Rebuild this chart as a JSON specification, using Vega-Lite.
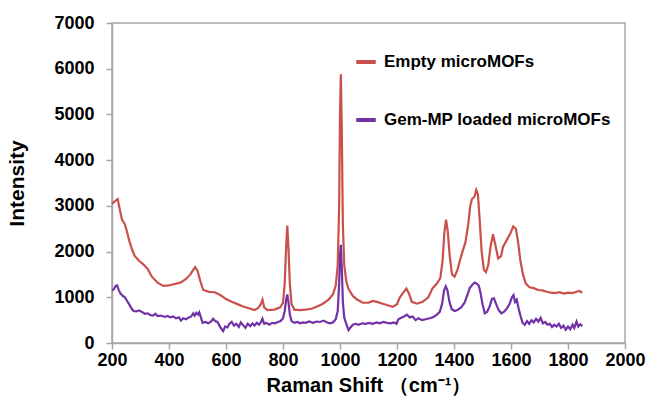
{
 "$schema": "https://vega.github.io/schema/vega-lite/v6.json",
 "width": 513,
 "height": 320,
 "autosize": {"type": "none"},
 "padding": {"left": 112, "top": 23, "right": 23, "bottom": 56},
 "background": "white",
 "config": {
  "view": {"stroke": "#a6a6a6", "strokeWidth": 1.5},
  "font": "Liberation Sans"
 },
 "datasets": {
  "empty": [
   {"x":200,"y":3050},{"x":210,"y":3100},{"x":220,"y":3150},{"x":228,"y":2900},{"x":235,"y":2700},{"x":245,"y":2600},{"x":252,"y":2450},{"x":260,"y":2250},{"x":270,"y":2050},{"x":280,"y":1900},{"x":295,"y":1800},{"x":310,"y":1720},{"x":325,"y":1620},{"x":340,"y":1450},{"x":360,"y":1320},{"x":380,"y":1250},{"x":400,"y":1260},{"x":420,"y":1290},{"x":440,"y":1320},{"x":460,"y":1400},{"x":475,"y":1500},{"x":485,"y":1600},{"x":492,"y":1660},{"x":500,"y":1580},{"x":510,"y":1350},{"x":520,"y":1160},{"x":540,"y":1120},{"x":560,"y":1110},{"x":580,"y":1050},{"x":600,"y":960},{"x":620,"y":900},{"x":640,"y":850},{"x":660,"y":800},{"x":680,"y":760},{"x":700,"y":720},{"x":712,"y":760},{"x":722,"y":850},{"x":728,"y":950},{"x":734,"y":780},{"x":745,"y":720},{"x":770,"y":730},{"x":790,"y":780},{"x":800,"y":880},{"x":806,"y":1300},{"x":811,"y":2100},{"x":815,"y":2570},{"x":819,"y":2100},{"x":824,"y":1300},{"x":830,"y":850},{"x":840,"y":730},{"x":860,"y":720},{"x":880,"y":730},{"x":900,"y":750},{"x":920,"y":800},{"x":940,"y":860},{"x":960,"y":950},{"x":975,"y":1060},{"x":985,"y":1250},{"x":992,"y":1700},{"x":997,"y":3000},{"x":1000,"y":5000},{"x":1003,"y":5880},{"x":1006,"y":4800},{"x":1010,"y":2600},{"x":1015,"y":1700},{"x":1022,"y":1350},{"x":1030,"y":1180},{"x":1045,"y":1030},{"x":1060,"y":950},{"x":1080,"y":880},{"x":1100,"y":880},{"x":1115,"y":920},{"x":1130,"y":900},{"x":1150,"y":860},{"x":1170,"y":820},{"x":1185,"y":790},{"x":1200,"y":850},{"x":1210,"y":1000},{"x":1222,"y":1100},{"x":1233,"y":1190},{"x":1242,"y":1080},{"x":1252,"y":900},{"x":1270,"y":860},{"x":1290,"y":900},{"x":1310,"y":1000},{"x":1325,"y":1200},{"x":1340,"y":1300},{"x":1352,"y":1420},{"x":1360,"y":1800},{"x":1366,"y":2400},{"x":1372,"y":2700},{"x":1378,"y":2450},{"x":1385,"y":1900},{"x":1393,"y":1500},{"x":1402,"y":1450},{"x":1412,"y":1600},{"x":1425,"y":1900},{"x":1440,"y":2200},{"x":1450,"y":2600},{"x":1457,"y":3000},{"x":1463,"y":3150},{"x":1472,"y":3200},{"x":1478,"y":3350},{"x":1484,"y":3250},{"x":1490,"y":2700},{"x":1497,"y":2000},{"x":1505,"y":1600},{"x":1512,"y":1550},{"x":1520,"y":1700},{"x":1528,"y":2100},{"x":1537,"y":2380},{"x":1545,"y":2150},{"x":1555,"y":1850},{"x":1565,"y":1900},{"x":1572,"y":2100},{"x":1585,"y":2250},{"x":1598,"y":2400},{"x":1608,"y":2550},{"x":1617,"y":2500},{"x":1625,"y":2200},{"x":1633,"y":1800},{"x":1642,"y":1500},{"x":1652,"y":1300},{"x":1665,"y":1220},{"x":1680,"y":1200},{"x":1695,"y":1160},{"x":1710,"y":1150},{"x":1725,"y":1120},{"x":1740,"y":1100},{"x":1755,"y":1090},{"x":1770,"y":1110},{"x":1785,"y":1080},{"x":1800,"y":1100},{"x":1815,"y":1090},{"x":1830,"y":1120},{"x":1840,"y":1140},{"x":1850,"y":1100}
  ],
  "gem": [
   {"x":200,"y":1150},{"x":207,"y":1180},{"x":213,"y":1250},{"x":218,"y":1260},{"x":224,"y":1150},{"x":230,"y":1080},{"x":238,"y":1030},{"x":245,"y":1000},{"x":252,"y":930},{"x":260,"y":850},{"x":268,"y":760},{"x":276,"y":700},{"x":285,"y":690},{"x":295,"y":710},{"x":305,"y":680},{"x":315,"y":640},{"x":325,"y":650},{"x":335,"y":610},{"x":345,"y":600},{"x":352,"y":640},{"x":360,"y":590},{"x":372,"y":600},{"x":385,"y":570},{"x":395,"y":590},{"x":405,"y":560},{"x":415,"y":580},{"x":425,"y":540},{"x":435,"y":560},{"x":442,"y":490},{"x":450,"y":540},{"x":460,"y":520},{"x":470,"y":560},{"x":478,"y":580},{"x":485,"y":650},{"x":490,"y":600},{"x":496,"y":660},{"x":502,"y":620},{"x":506,"y":670},{"x":512,"y":560},{"x":518,"y":440},{"x":528,"y":460},{"x":538,"y":430},{"x":548,"y":470},{"x":555,"y":530},{"x":562,"y":480},{"x":570,"y":460},{"x":578,"y":370},{"x":585,"y":300},{"x":590,"y":260},{"x":597,"y":360},{"x":605,"y":340},{"x":612,"y":420},{"x":620,"y":460},{"x":628,"y":380},{"x":636,"y":420},{"x":645,"y":350},{"x":652,"y":450},{"x":660,"y":390},{"x":668,"y":330},{"x":676,"y":420},{"x":685,"y":370},{"x":693,"y":430},{"x":700,"y":380},{"x":708,"y":440},{"x":716,"y":400},{"x":722,"y":450},{"x":728,"y":530},{"x":734,"y":420},{"x":742,"y":440},{"x":752,"y":400},{"x":762,"y":440},{"x":772,"y":430},{"x":782,"y":460},{"x":792,"y":480},{"x":800,"y":540},{"x":806,"y":700},{"x":811,"y":950},{"x":815,"y":1060},{"x":819,"y":900},{"x":824,"y":620},{"x":830,"y":480},{"x":840,"y":440},{"x":850,"y":460},{"x":860,"y":430},{"x":870,"y":450},{"x":880,"y":440},{"x":892,"y":470},{"x":905,"y":440},{"x":918,"y":470},{"x":930,"y":460},{"x":942,"y":490},{"x":955,"y":450},{"x":965,"y":430},{"x":975,"y":450},{"x":985,"y":520},{"x":992,"y":700},{"x":997,"y":1300},{"x":1000,"y":1900},{"x":1003,"y":2150},{"x":1006,"y":1700},{"x":1010,"y":900},{"x":1015,"y":550},{"x":1022,"y":420},{"x":1030,"y":280},{"x":1037,"y":340},{"x":1045,"y":400},{"x":1055,"y":420},{"x":1065,"y":400},{"x":1078,"y":430},{"x":1090,"y":420},{"x":1102,"y":440},{"x":1115,"y":420},{"x":1128,"y":450},{"x":1140,"y":430},{"x":1152,"y":460},{"x":1165,"y":440},{"x":1178,"y":430},{"x":1190,"y":450},{"x":1198,"y":420},{"x":1205,"y":520},{"x":1215,"y":550},{"x":1225,"y":580},{"x":1235,"y":620},{"x":1245,"y":560},{"x":1255,"y":580},{"x":1265,"y":500},{"x":1275,"y":540},{"x":1288,"y":500},{"x":1300,"y":520},{"x":1315,"y":540},{"x":1328,"y":570},{"x":1340,"y":620},{"x":1350,"y":680},{"x":1358,"y":850},{"x":1365,"y":1150},{"x":1371,"y":1240},{"x":1377,"y":1150},{"x":1384,"y":900},{"x":1392,"y":740},{"x":1402,"y":700},{"x":1412,"y":720},{"x":1425,"y":780},{"x":1437,"y":880},{"x":1447,"y":1050},{"x":1455,"y":1200},{"x":1465,"y":1280},{"x":1473,"y":1320},{"x":1480,"y":1300},{"x":1487,"y":1250},{"x":1493,"y":1100},{"x":1500,"y":850},{"x":1508,"y":650},{"x":1516,"y":680},{"x":1525,"y":800},{"x":1533,"y":960},{"x":1540,"y":980},{"x":1548,"y":850},{"x":1557,"y":720},{"x":1566,"y":650},{"x":1575,"y":680},{"x":1585,"y":750},{"x":1595,"y":850},{"x":1603,"y":1000},{"x":1609,"y":1050},{"x":1614,"y":900},{"x":1620,"y":950},{"x":1627,"y":750},{"x":1633,"y":600},{"x":1640,"y":450},{"x":1648,"y":400},{"x":1656,"y":480},{"x":1664,"y":420},{"x":1672,"y":500},{"x":1680,"y":450},{"x":1688,"y":530},{"x":1696,"y":470},{"x":1704,"y":550},{"x":1712,"y":430},{"x":1720,"y":460},{"x":1728,"y":400},{"x":1736,"y":420},{"x":1744,"y":350},{"x":1752,"y":400},{"x":1760,"y":360},{"x":1768,"y":420},{"x":1776,"y":330},{"x":1784,"y":380},{"x":1792,"y":290},{"x":1800,"y":360},{"x":1808,"y":300},{"x":1816,"y":400},{"x":1822,"y":330},{"x":1830,"y":470},{"x":1836,"y":360},{"x":1843,"y":410},{"x":1850,"y":370}
  ]
 },
 "layer": [
  {
   "data": {"name": "empty"},
   "transform": [{"calculate": "'Empty microMOFs'", "as": "series"}],
   "mark": {"type": "line", "strokeWidth": 2.2},
   "encoding": {
    "x": {"field": "x", "type": "quantitative"},
    "y": {"field": "y", "type": "quantitative"},
    "color": {"field": "series", "type": "nominal"}
   }
  },
  {
   "data": {"name": "gem"},
   "transform": [{"calculate": "'Gem-MP loaded microMOFs'", "as": "series"}],
   "mark": {"type": "line", "strokeWidth": 2.2},
   "encoding": {
    "x": {"field": "x", "type": "quantitative"},
    "y": {"field": "y", "type": "quantitative"},
    "color": {"field": "series", "type": "nominal"}
   }
  }
 ],
 "encoding": {
  "x": {
   "field": "x", "type": "quantitative",
   "scale": {"domain": [200, 2000], "nice": false, "zero": false},
   "axis": {
    "title": "Raman Shift （cm⁻¹）",
    "format": "d",
    "values": [200,400,600,800,1000,1200,1400,1600,1800,2000],
    "grid": false, "domainColor": "#a6a6a6", "domainWidth": 1.5, "tickColor": "#a6a6a6", "tickWidth": 1.5, "tickSize": 6,
    "labelFont": "Liberation Sans", "labelFontWeight": "bold", "labelFontSize": 18, "labelColor": "black", "labelPadding": 2,
    "labelFlush": false, "labelOverlap": false,
    "titleFont": "Liberation Sans", "titleFontWeight": "bold", "titleFontSize": 20, "titleColor": "black", "titlePadding": 6
   }
  },
  "y": {
   "field": "y", "type": "quantitative",
   "scale": {"domain": [0, 7000], "nice": false},
   "axis": {
    "title": "Intensity",
    "format": "d",
    "values": [0,1000,2000,3000,4000,5000,6000,7000],
    "grid": false, "domainColor": "#a6a6a6", "domainWidth": 1.5, "tickColor": "#a6a6a6", "tickWidth": 1.5, "tickSize": 6,
    "labelFont": "Liberation Sans", "labelFontWeight": "bold", "labelFontSize": 18, "labelColor": "black", "labelPadding": 12,
    "labelFlush": false, "labelOverlap": false,
    "titleFont": "Liberation Sans", "titleFontWeight": "bold", "titleFontSize": 21, "titleColor": "black", "titlePadding": 26
   }
  },
  "color": {
   "field": "series", "type": "nominal",
   "scale": {"domain": ["Empty microMOFs", "Gem-MP loaded microMOFs"], "range": ["#c9504b", "#7232a6"]},
   "legend": {
    "title": null, "orient": "none", "legendX": 242, "legendY": 27,
    "symbolType": "stroke", "symbolStrokeWidth": 4, "symbolSize": 380,
    "labelFont": "Liberation Sans", "labelFontWeight": "bold", "labelFontSize": 17, "labelColor": "black",
    "labelLimit": 0,
    "labelOffset": 6, "rowPadding": 38, "padding": 0
   }
  }
 }
}
